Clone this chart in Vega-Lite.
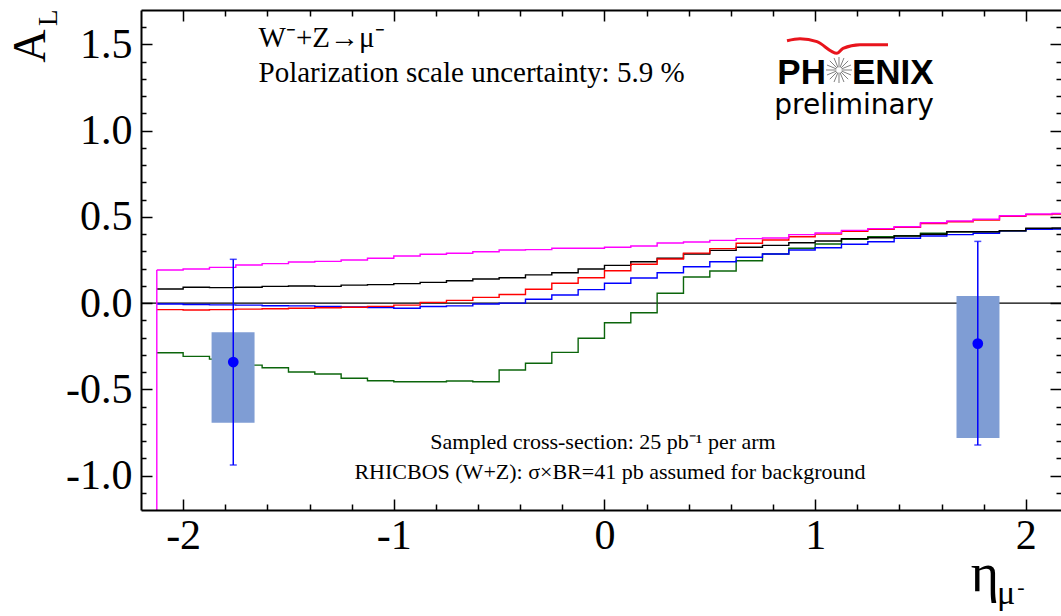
{
"$schema": "https://vega.github.io/schema/vega-lite/v6.json",
"width": 920, "height": 500,
"autosize": {"type": "none"},
"padding": {"left": 141, "top": 10, "right": 0, "bottom": 106},
"background": "white",
"config": {"view": {"stroke": null}, "axis": {"grid": false, "title": null}},
"datasets": {
"hist": [
{"s":"green","x":-2.125,"y":-0.288},{"s":"green","x":-2,"y":-0.309},{"s":"green","x":-1.875,"y":-0.325},{"s":"green","x":-1.75,"y":-0.36},{"s":"green","x":-1.625,"y":-0.375},{"s":"green","x":-1.5,"y":-0.4},{"s":"green","x":-1.375,"y":-0.411},{"s":"green","x":-1.25,"y":-0.436},{"s":"green","x":-1.125,"y":-0.45},{"s":"green","x":-1,"y":-0.456},{"s":"green","x":-0.875,"y":-0.456},{"s":"green","x":-0.75,"y":-0.452},{"s":"green","x":-0.625,"y":-0.456},{"s":"green","x":-0.5,"y":-0.388},{"s":"green","x":-0.375,"y":-0.349},{"s":"green","x":-0.25,"y":-0.286},{"s":"green","x":-0.125,"y":-0.204},{"s":"green","x":0,"y":-0.114},{"s":"green","x":0.125,"y":-0.056},{"s":"green","x":0.25,"y":0.057},{"s":"green","x":0.375,"y":0.151},{"s":"green","x":0.5,"y":0.186},{"s":"green","x":0.625,"y":0.246},{"s":"green","x":0.75,"y":0.285},{"s":"green","x":0.875,"y":0.318},{"s":"green","x":1,"y":0.343},{"s":"green","x":1.125,"y":0.37},{"s":"green","x":1.25,"y":0.385},{"s":"green","x":1.375,"y":0.391},{"s":"green","x":1.5,"y":0.405},{"s":"green","x":1.625,"y":0.414},{"s":"green","x":1.75,"y":0.414},{"s":"green","x":1.875,"y":0.42},{"s":"green","x":2,"y":0.43},{"s":"green","x":2.125,"y":0.432},{"s":"green","x":2.25,"y":0.432},
{"s":"blue","x":-2.125,"y":-0.005},{"s":"blue","x":-2,"y":-0.008},{"s":"blue","x":-1.875,"y":-0.01},{"s":"blue","x":-1.75,"y":-0.012},{"s":"blue","x":-1.625,"y":-0.015},{"s":"blue","x":-1.5,"y":-0.016},{"s":"blue","x":-1.375,"y":-0.02},{"s":"blue","x":-1.25,"y":-0.022},{"s":"blue","x":-1.125,"y":-0.026},{"s":"blue","x":-1,"y":-0.03},{"s":"blue","x":-0.875,"y":-0.02},{"s":"blue","x":-0.75,"y":-0.016},{"s":"blue","x":-0.625,"y":-0.005},{"s":"blue","x":-0.5,"y":0.0},{"s":"blue","x":-0.375,"y":0.022},{"s":"blue","x":-0.25,"y":0.047},{"s":"blue","x":-0.125,"y":0.078},{"s":"blue","x":0,"y":0.115},{"s":"blue","x":0.125,"y":0.146},{"s":"blue","x":0.25,"y":0.176},{"s":"blue","x":0.375,"y":0.211},{"s":"blue","x":0.5,"y":0.24},{"s":"blue","x":0.625,"y":0.266},{"s":"blue","x":0.75,"y":0.285},{"s":"blue","x":0.875,"y":0.308},{"s":"blue","x":1,"y":0.321},{"s":"blue","x":1.125,"y":0.341},{"s":"blue","x":1.25,"y":0.356},{"s":"blue","x":1.375,"y":0.376},{"s":"blue","x":1.5,"y":0.389},{"s":"blue","x":1.625,"y":0.397},{"s":"blue","x":1.75,"y":0.405},{"s":"blue","x":1.875,"y":0.42},{"s":"blue","x":2,"y":0.428},{"s":"blue","x":2.125,"y":0.43},{"s":"blue","x":2.25,"y":0.43},
{"s":"black","x":-2.125,"y":0.082},{"s":"black","x":-2,"y":0.092},{"s":"black","x":-1.875,"y":0.09},{"s":"black","x":-1.75,"y":0.092},{"s":"black","x":-1.625,"y":0.097},{"s":"black","x":-1.5,"y":0.099},{"s":"black","x":-1.375,"y":0.097},{"s":"black","x":-1.25,"y":0.104},{"s":"black","x":-1.125,"y":0.107},{"s":"black","x":-1,"y":0.113},{"s":"black","x":-0.875,"y":0.12},{"s":"black","x":-0.75,"y":0.13},{"s":"black","x":-0.625,"y":0.14},{"s":"black","x":-0.5,"y":0.147},{"s":"black","x":-0.375,"y":0.164},{"s":"black","x":-0.25,"y":0.176},{"s":"black","x":-0.125,"y":0.198},{"s":"black","x":0,"y":0.219},{"s":"black","x":0.125,"y":0.24},{"s":"black","x":0.25,"y":0.26},{"s":"black","x":0.375,"y":0.285},{"s":"black","x":0.5,"y":0.306},{"s":"black","x":0.625,"y":0.324},{"s":"black","x":0.75,"y":0.335},{"s":"black","x":0.875,"y":0.35},{"s":"black","x":1,"y":0.36},{"s":"black","x":1.125,"y":0.374},{"s":"black","x":1.25,"y":0.379},{"s":"black","x":1.375,"y":0.389},{"s":"black","x":1.5,"y":0.399},{"s":"black","x":1.625,"y":0.414},{"s":"black","x":1.75,"y":0.414},{"s":"black","x":1.875,"y":0.42},{"s":"black","x":2,"y":0.434},{"s":"black","x":2.125,"y":0.436},{"s":"black","x":2.25,"y":0.436},
{"s":"red","x":-2.125,"y":-0.038},{"s":"red","x":-2,"y":-0.04},{"s":"red","x":-1.875,"y":-0.038},{"s":"red","x":-1.75,"y":-0.035},{"s":"red","x":-1.625,"y":-0.033},{"s":"red","x":-1.5,"y":-0.03},{"s":"red","x":-1.375,"y":-0.027},{"s":"red","x":-1.25,"y":-0.024},{"s":"red","x":-1.125,"y":-0.019},{"s":"red","x":-1,"y":-0.012},{"s":"red","x":-0.875,"y":0.004},{"s":"red","x":-0.75,"y":0.016},{"s":"red","x":-0.625,"y":0.033},{"s":"red","x":-0.5,"y":0.05},{"s":"red","x":-0.375,"y":0.08},{"s":"red","x":-0.25,"y":0.115},{"s":"red","x":-0.125,"y":0.147},{"s":"red","x":0,"y":0.188},{"s":"red","x":0.125,"y":0.225},{"s":"red","x":0.25,"y":0.256},{"s":"red","x":0.375,"y":0.29},{"s":"red","x":0.5,"y":0.316},{"s":"red","x":0.625,"y":0.347},{"s":"red","x":0.75,"y":0.366},{"s":"red","x":0.875,"y":0.385},{"s":"red","x":1,"y":0.4},{"s":"red","x":1.125,"y":0.417},{"s":"red","x":1.25,"y":0.428},{"s":"red","x":1.375,"y":0.44},{"s":"red","x":1.5,"y":0.462},{"s":"red","x":1.625,"y":0.472},{"s":"red","x":1.75,"y":0.482},{"s":"red","x":1.875,"y":0.503},{"s":"red","x":2,"y":0.513},{"s":"red","x":2.125,"y":0.516},{"s":"red","x":2.25,"y":0.516},
{"s":"magenta","x":-2.125,"y":0.192},{"s":"magenta","x":-2,"y":0.198},{"s":"magenta","x":-1.875,"y":0.207},{"s":"magenta","x":-1.75,"y":0.221},{"s":"magenta","x":-1.625,"y":0.229},{"s":"magenta","x":-1.5,"y":0.238},{"s":"magenta","x":-1.375,"y":0.242},{"s":"magenta","x":-1.25,"y":0.25},{"s":"magenta","x":-1.125,"y":0.26},{"s":"magenta","x":-1,"y":0.273},{"s":"magenta","x":-0.875,"y":0.283},{"s":"magenta","x":-0.75,"y":0.289},{"s":"magenta","x":-0.625,"y":0.298},{"s":"magenta","x":-0.5,"y":0.308},{"s":"magenta","x":-0.375,"y":0.31},{"s":"magenta","x":-0.25,"y":0.318},{"s":"magenta","x":-0.125,"y":0.318},{"s":"magenta","x":0,"y":0.324},{"s":"magenta","x":0.125,"y":0.331},{"s":"magenta","x":0.25,"y":0.349},{"s":"magenta","x":0.375,"y":0.354},{"s":"magenta","x":0.5,"y":0.364},{"s":"magenta","x":0.625,"y":0.374},{"s":"magenta","x":0.75,"y":0.378},{"s":"magenta","x":0.875,"y":0.397},{"s":"magenta","x":1,"y":0.407},{"s":"magenta","x":1.125,"y":0.422},{"s":"magenta","x":1.25,"y":0.432},{"s":"magenta","x":1.375,"y":0.443},{"s":"magenta","x":1.5,"y":0.466},{"s":"magenta","x":1.625,"y":0.476},{"s":"magenta","x":1.75,"y":0.486},{"s":"magenta","x":1.875,"y":0.507},{"s":"magenta","x":2,"y":0.517},{"s":"magenta","x":2.125,"y":0.52},{"s":"magenta","x":2.25,"y":0.52}
],
"pts": [
{"x":-1.762,"y":-0.342,"lo":-0.939,"hi":0.254,"blo":-0.694,"bhi":-0.169,"bx1":-1.865,"bx2":-1.661},
{"x":1.772,"y":-0.235,"lo":-0.823,"hi":0.358,"blo":-0.782,"bhi":0.041,"bx1":1.671,"bx2":1.875}
]
},
"layer": [
{"data": {"values": [{}]}, "mark": {"type": "rule", "color": "black", "strokeWidth": 1.2},
 "encoding": {"y": {"datum": 0, "type": "quantitative", "scale": {"domain": [-1.2, 1.7], "nice": false, "zero": false}, "axis": null}}},
{"data": {"name": "hist"}, "mark": {"type": "line", "interpolate": "step-after", "strokeWidth": 1.4, "clip": true},
 "encoding": {
  "x": {"field": "x", "type": "quantitative", "scale": {"domain": [-2.2, 2.167], "nice": false, "zero": false},
   "axis": {"orient": "bottom", "values": [-2, -1, 0, 1, 2], "ticks": false, "domain": true, "domainColor": "black", "domainWidth": 2, "labelFont": "Liberation Serif", "labelFontSize": 42, "labelColor": "black", "labelPadding": 5, "labelFlush": false, "labelOverlap": false, "labelBound": false, "labelExpr": "datum.value < 0 ? '-' + format(-datum.value, 'd') : format(datum.value, 'd')", "grid": false, "title": null, "zindex": 1}},
  "y": {"field": "y", "type": "quantitative", "scale": {"domain": [-1.2, 1.7], "nice": false, "zero": false},
   "axis": {"orient": "left", "values": [-1, -0.5, 0, 0.5, 1, 1.5], "ticks": false, "domain": true, "domainColor": "black", "domainWidth": 2, "labelFont": "Liberation Serif", "labelFontSize": 42, "labelColor": "black", "labelPadding": 9, "labelFlush": false, "labelOverlap": false, "labelBound": false, "labelExpr": "(datum.value < 0 ? '-' : '') + format(abs(datum.value), '.1f')", "grid": false, "title": null, "zindex": 1}},
  "color": {"field": "s", "type": "nominal", "scale": {"domain": ["green", "blue", "black", "red", "magenta"], "range": ["#0b650b", "#0000ff", "#000000", "#ff0000", "#ff00ff"]}, "legend": null}
 }},
{"data": {"values": [{"x": -2.125, "y": -1.2, "y2": 0.192}]}, "mark": {"type": "rule", "color": "#ff00ff", "strokeWidth": 1.4},
 "encoding": {"x": {"field": "x", "type": "quantitative", "scale": {"domain": [-2.2, 2.167], "nice": false, "zero": false}, "axis": null},
  "y": {"field": "y", "type": "quantitative", "scale": {"domain": [-1.2, 1.7], "nice": false, "zero": false}, "axis": null}, "y2": {"field": "y2"}}},
{"data": {"name": "pts"}, "mark": {"type": "rect", "color": "#7f9dd4", "opacity": 1},
 "encoding": {
  "x": {"field": "bx1", "type": "quantitative", "scale": {"domain": [-2.2, 2.167], "nice": false, "zero": false},
   "axis": {"orient": "bottom", "values": [-2, -1, 0, 1, 2], "ticks": true, "tickSize": -11, "tickWidth": 1.5, "tickColor": "black", "domain": false, "labels": false, "grid": false, "title": null, "zindex": 1}},
  "x2": {"field": "bx2"},
  "y": {"field": "blo", "type": "quantitative", "scale": {"domain": [-1.2, 1.7], "nice": false, "zero": false},
   "axis": {"orient": "left", "values": [-1, -0.5, 0, 0.5, 1, 1.5], "ticks": true, "tickSize": -11, "tickWidth": 1.5, "tickColor": "black", "domain": false, "labels": false, "grid": false, "title": null, "zindex": 1}},
  "y2": {"field": "bhi"}
 }},
{"data": {"name": "pts"}, "mark": {"type": "rule", "color": "#0000ff", "strokeWidth": 1.5},
 "encoding": {
  "x": {"field": "x", "type": "quantitative", "scale": {"domain": [-2.2, 2.167], "nice": false, "zero": false},
   "axis": {"orient": "bottom", "values": [-1.8, -1.6, -1.4, -1.2, -0.8, -0.6, -0.4, -0.2, 0.2, 0.4, 0.6, 0.8, 1.2, 1.4, 1.6, 1.8], "ticks": true, "tickSize": -6, "tickWidth": 1.5, "tickColor": "black", "domain": false, "labels": false, "grid": false, "title": null, "zindex": 1}},
  "y": {"field": "lo", "type": "quantitative", "scale": {"domain": [-1.2, 1.7], "nice": false, "zero": false},
   "axis": {"orient": "left", "values": [-1.1, -0.9, -0.8, -0.7, -0.6, -0.4, -0.3, -0.2, -0.1, 0.1, 0.2, 0.3, 0.4, 0.6, 0.7, 0.8, 0.9, 1.1, 1.2, 1.3, 1.4, 1.6], "ticks": true, "tickSize": -5, "tickWidth": 1.5, "tickColor": "black", "domain": false, "labels": false, "grid": false, "title": null, "zindex": 1}},
  "y2": {"field": "hi"}
 }},
{"data": {"name": "pts"}, "mark": {"type": "tick", "orient": "horizontal", "color": "#0000ff", "size": 7, "thickness": 1.5},
 "encoding": {
  "x": {"field": "x", "type": "quantitative", "scale": {"domain": [-2.2, 2.167], "nice": false, "zero": false},
   "axis": {"orient": "top", "values": [-2, -1, 0, 1, 2], "ticks": true, "tickSize": -11, "tickWidth": 1.5, "tickColor": "black", "domain": true, "domainColor": "black", "domainWidth": 2, "labels": false, "grid": false, "title": null, "zindex": 1}},
  "y": {"field": "lo", "type": "quantitative", "scale": {"domain": [-1.2, 1.7], "nice": false, "zero": false},
   "axis": {"orient": "right", "values": [-1, -0.5, 0, 0.5, 1, 1.5], "ticks": true, "tickSize": -11, "tickWidth": 1.5, "tickColor": "black", "domain": false, "labels": false, "grid": false, "title": null, "zindex": 1}}
 }},
{"data": {"name": "pts"}, "mark": {"type": "tick", "orient": "horizontal", "color": "#0000ff", "size": 7, "thickness": 1.5},
 "encoding": {
  "x": {"field": "x", "type": "quantitative", "scale": {"domain": [-2.2, 2.167], "nice": false, "zero": false}, "axis": null},
  "y": {"field": "hi", "type": "quantitative", "scale": {"domain": [-1.2, 1.7], "nice": false, "zero": false}, "axis": null}
 }},
{"data": {"name": "pts"}, "mark": {"type": "point", "filled": true, "size": 115, "color": "#0000ff", "opacity": 1},
 "encoding": {
  "x": {"field": "x", "type": "quantitative", "scale": {"domain": [-2.2, 2.167], "nice": false, "zero": false},
   "axis": {"orient": "top", "values": [-1.8, -1.6, -1.4, -1.2, -0.8, -0.6, -0.4, -0.2, 0.2, 0.4, 0.6, 0.8, 1.2, 1.4, 1.6, 1.8], "ticks": true, "tickSize": -6, "tickWidth": 1.5, "tickColor": "black", "domain": false, "labels": false, "grid": false, "title": null, "zindex": 1}},
  "y": {"field": "y", "type": "quantitative", "scale": {"domain": [-1.2, 1.7], "nice": false, "zero": false},
   "axis": {"orient": "right", "values": [-1.1, -0.9, -0.8, -0.7, -0.6, -0.4, -0.3, -0.2, -0.1, 0.1, 0.2, 0.3, 0.4, 0.6, 0.7, 0.8, 0.9, 1.1, 1.2, 1.3, 1.4, 1.6], "ticks": true, "tickSize": -5, "tickWidth": 1.5, "tickColor": "black", "domain": false, "labels": false, "grid": false, "title": null, "zindex": 1}}
 }},
{"data": {"values": [{"x": -1.642, "y": 1.483, "t": "W⁻+Z→μ⁻"}, {"x": -1.642, "y": 1.282, "t": "Polarization scale uncertainty: 5.9 %"}]},
 "mark": {"type": "text", "font": "Liberation Serif", "fontSize": 29, "align": "left", "baseline": "alphabetic", "color": "black"},
 "encoding": {"x": {"field": "x", "type": "quantitative", "scale": {"domain": [-2.2, 2.167], "nice": false, "zero": false}, "axis": null},
  "y": {"field": "y", "type": "quantitative", "scale": {"domain": [-1.2, 1.7], "nice": false, "zero": false}, "axis": null}, "text": {"field": "t"}}},
{"data": {"values": [{"x": -0.007, "y": -0.846, "t": "Sampled cross-section: 25 pb⁻¹ per arm"}, {"x": 0.026, "y": -1.022, "t": "RHICBOS (W+Z): σ×BR=41 pb assumed for background"}]},
 "mark": {"type": "text", "font": "Liberation Serif", "fontSize": 22, "align": "center", "baseline": "alphabetic", "color": "black"},
 "encoding": {"x": {"field": "x", "type": "quantitative", "scale": {"domain": [-2.2, 2.167], "nice": false, "zero": false}, "axis": null},
  "y": {"field": "y", "type": "quantitative", "scale": {"domain": [-1.2, 1.7], "nice": false, "zero": false}, "axis": null}, "text": {"field": "t"}}},
{"data": {"values": [{"x": -2.656, "y": 1.491, "t": "A"}]},
 "mark": {"type": "text", "font": "Liberation Serif", "fontSize": 46, "align": "center", "baseline": "alphabetic", "angle": 270, "color": "black"},
 "encoding": {"x": {"field": "x", "type": "quantitative", "scale": {"domain": [-2.2, 2.167], "nice": false, "zero": false}, "axis": null},
  "y": {"field": "y", "type": "quantitative", "scale": {"domain": [-1.2, 1.7], "nice": false, "zero": false}, "axis": null}, "text": {"field": "t"}}},
{"data": {"values": [{"x": -2.599, "y": 1.655, "t": "L"}]},
 "mark": {"type": "text", "font": "Liberation Serif", "fontSize": 27, "align": "center", "baseline": "alphabetic", "angle": 270, "color": "black"},
 "encoding": {"x": {"field": "x", "type": "quantitative", "scale": {"domain": [-2.2, 2.167], "nice": false, "zero": false}, "axis": null},
  "y": {"field": "y", "type": "quantitative", "scale": {"domain": [-1.2, 1.7], "nice": false, "zero": false}, "axis": null}, "text": {"field": "t"}}},
{"data": {"values": [{"x": 1.806, "y": -1.672, "t": "η"}]},
 "mark": {"type": "text", "font": "Liberation Serif", "fontSize": 54, "align": "center", "baseline": "alphabetic", "color": "black"},
 "encoding": {"x": {"field": "x", "type": "quantitative", "scale": {"domain": [-2.2, 2.167], "nice": false, "zero": false}, "axis": null},
  "y": {"field": "y", "type": "quantitative", "scale": {"domain": [-1.2, 1.7], "nice": false, "zero": false}, "axis": null}, "text": {"field": "t"}}},
{"data": {"values": [{"x": 1.906, "y": -1.745, "t": "μ"}]},
 "mark": {"type": "text", "font": "Liberation Serif", "fontSize": 34, "align": "center", "baseline": "alphabetic", "color": "black"},
 "encoding": {"x": {"field": "x", "type": "quantitative", "scale": {"domain": [-2.2, 2.167], "nice": false, "zero": false}, "axis": null},
  "y": {"field": "y", "type": "quantitative", "scale": {"domain": [-1.2, 1.7], "nice": false, "zero": false}, "axis": null}, "text": {"field": "t"}}},
{"data": {"values": [{"x": 1.977, "y": -1.648, "t": "-"}]},
 "mark": {"type": "text", "font": "Liberation Serif", "fontSize": 22, "align": "center", "baseline": "middle", "color": "black"},
 "encoding": {"x": {"field": "x", "type": "quantitative", "scale": {"domain": [-2.2, 2.167], "nice": false, "zero": false}, "axis": null},
  "y": {"field": "y", "type": "quantitative", "scale": {"domain": [-1.2, 1.7], "nice": false, "zero": false}, "axis": null}, "text": {"field": "t"}}},
{"data": {"values": [{"x": 0.8664, "y": 1.522}, {"x": 0.928, "y": 1.5335}, {"x": 1.0088, "y": 1.5161}, {"x": 1.1037, "y": 1.4489}, {"x": 1.1322, "y": 1.4779}, {"x": 1.2129, "y": 1.499}, {"x": 1.3458, "y": 1.4981}]},
 "mark": {"type": "line", "interpolate": "monotone", "color": "#e8141c", "strokeWidth": 3},
 "encoding": {"x": {"field": "x", "type": "quantitative", "scale": {"domain": [-2.2, 2.167], "nice": false, "zero": false}, "axis": null},
  "y": {"field": "y", "type": "quantitative", "scale": {"domain": [-1.2, 1.7], "nice": false, "zero": false}, "axis": null}}},
{"data": {"values": [
  {"xa": 1.0515, "ya": 1.352, "xb": 1.1749, "yb": 1.352},
  {"xa": 1.0562, "ya": 1.3231, "xb": 1.1702, "yb": 1.3809},
  {"xa": 1.0696, "ya": 1.2987, "xb": 1.1568, "yb": 1.4053},
  {"xa": 1.0896, "ya": 1.2823, "xb": 1.1368, "yb": 1.4217},
  {"xa": 1.1132, "ya": 1.2766, "xb": 1.1132, "yb": 1.4274},
  {"xa": 1.1368, "ya": 1.2823, "xb": 1.0896, "yb": 1.4217},
  {"xa": 1.1568, "ya": 1.2987, "xb": 1.0696, "yb": 1.4053},
  {"xa": 1.1702, "ya": 1.3231, "xb": 1.0562, "yb": 1.3809}]},
 "mark": {"type": "rule", "color": "#808080", "strokeWidth": 1},
 "encoding": {"x": {"field": "xa", "type": "quantitative", "scale": {"domain": [-2.2, 2.167], "nice": false, "zero": false}, "axis": null}, "x2": {"field": "xb"},
  "y": {"field": "ya", "type": "quantitative", "scale": {"domain": [-1.2, 1.7], "nice": false, "zero": false}, "axis": null}, "y2": {"field": "yb"}}},
{"data": {"values": [{"x": 1.1132, "y": 1.352}]},
 "mark": {"type": "point", "filled": true, "size": 30, "color": "white", "opacity": 1},
 "encoding": {"x": {"field": "x", "type": "quantitative", "scale": {"domain": [-2.2, 2.167], "nice": false, "zero": false}, "axis": null},
  "y": {"field": "y", "type": "quantitative", "scale": {"domain": [-1.2, 1.7], "nice": false, "zero": false}, "axis": null}}},
{"data": {"values": [{"x": 1.0515, "y": 1.2708, "t": "PH"}]},
 "mark": {"type": "text", "font": "Liberation Sans", "fontWeight": "bold", "fontSize": 35, "align": "right", "baseline": "alphabetic", "color": "black"},
 "encoding": {"x": {"field": "x", "type": "quantitative", "scale": {"domain": [-2.2, 2.167], "nice": false, "zero": false}, "axis": null},
  "y": {"field": "y", "type": "quantitative", "scale": {"domain": [-1.2, 1.7], "nice": false, "zero": false}, "axis": null}, "text": {"field": "t"}}},
{"data": {"values": [{"x": 1.1749, "y": 1.2708, "t": "ENIX"}]},
 "mark": {"type": "text", "font": "Liberation Sans", "fontWeight": "bold", "fontSize": 35, "align": "left", "baseline": "alphabetic", "color": "black"},
 "encoding": {"x": {"field": "x", "type": "quantitative", "scale": {"domain": [-2.2, 2.167], "nice": false, "zero": false}, "axis": null},
  "y": {"field": "y", "type": "quantitative", "scale": {"domain": [-1.2, 1.7], "nice": false, "zero": false}, "axis": null}, "text": {"field": "t"}}},
{"data": {"values": [{"x": 1.1844, "y": 1.094, "t": "preliminary"}]},
 "mark": {"type": "text", "font": "DejaVu Sans", "fontSize": 28, "align": "center", "baseline": "alphabetic", "color": "black"},
 "encoding": {"x": {"field": "x", "type": "quantitative", "scale": {"domain": [-2.2, 2.167], "nice": false, "zero": false}, "axis": null},
  "y": {"field": "y", "type": "quantitative", "scale": {"domain": [-1.2, 1.7], "nice": false, "zero": false}, "axis": null}, "text": {"field": "t"}}}
],
"resolve": {"axis": {"x": "independent", "y": "independent"}}
}
